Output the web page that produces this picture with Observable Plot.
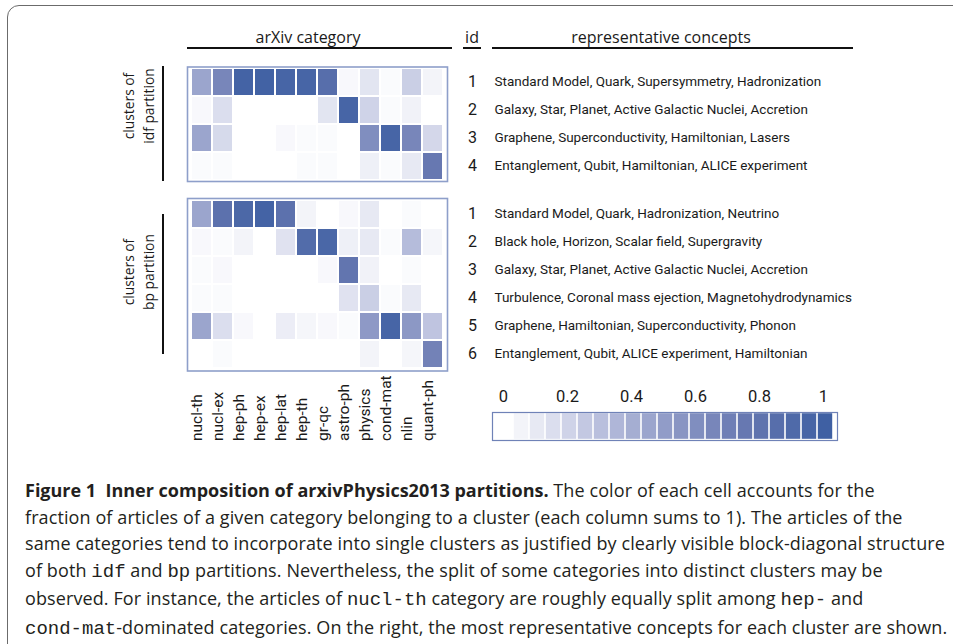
<!DOCTYPE html>
<html>
<head>
<meta charset="utf-8">
<script src="https://cdn.jsdelivr.net/npm/d3@7"></script>
<script src="https://cdn.jsdelivr.net/npm/@observablehq/plot@0.6"></script>
<style>
  body { margin: 0; background: #fff; }
  #root { position: relative; width: 953px; height: 644px; overflow: hidden; background: #fff; font-family: "Open Sans", Roboto, sans-serif; color: #1a1a1a; }
  .abs { position: absolute; }
  .hdr { font-size: 16px; white-space: nowrap; }
  .uline { position: absolute; height: 2px; background: #111; }
  .vline { position: absolute; width: 2px; background: #111; }
  .rot { position: absolute; transform: translate(-50%, -50%) rotate(-90deg); text-align: center; font-size: 13.8px; line-height: 20px; white-space: nowrap; }
  #caption { position: absolute; left: 25px; top: 477px; font-size: 18px; letter-spacing: 0.1px; line-height: 26.6px; white-space: nowrap; color: #231f20; }
  #caption .m { font-family: "Liberation Mono", "DejaVu Sans Mono", monospace; font-size: 19px; letter-spacing: 0; }
  #caption b { font-weight: 700; letter-spacing: 0; }
  svg.plot-layer { position: absolute; left: 0; top: 0; }
</style>
</head>
<body>
<div id="root">
  <div class="abs" style="left:7px;top:5px;width:1000px;height:700px;border:1.3px solid #6b6b6b;border-radius:12px;"></div>

  <div class="abs hdr" style="left:308px;top:37px;transform:translate(-50%,-50%);">arXiv category</div>
  <div class="uline" style="left:187px;top:47px;width:265px;"></div>
  <div class="abs hdr" style="left:472px;top:37px;transform:translate(-50%,-50%);">id</div>
  <div class="uline" style="left:463px;top:47px;width:18px;"></div>
  <div class="abs hdr" style="left:661px;top:37px;transform:translate(-50%,-50%);">representative concepts</div>
  <div class="uline" style="left:492px;top:47px;width:361px;"></div>

  <div class="rot" style="left:139px;top:106px;">clusters of<br>idf partition</div>
  <div class="vline" style="left:162px;top:66px;height:115px;"></div>
  <div class="rot" style="left:139px;top:272px;">clusters of<br>bp partition</div>
  <div class="vline" style="left:162px;top:214px;height:140px;"></div>

  <div id="caption"><b>Figure 1&nbsp; Inner composition of arxivPhysics2013 partitions.</b> The color of each cell accounts for the<br>fraction of articles of a given category belonging to a cluster (each column sums to 1). The articles of the<br>same categories tend to incorporate into single clusters as justified by clearly visible block-diagonal structure<br>of both <span class="m">idf</span> and <span class="m">bp</span> partitions. Nevertheless, the split of some categories into distinct clusters may be<br>observed. For instance, the articles of <span class="m">nucl-th</span> category are roughly equally split among <span class="m">hep-</span> and<br><span class="m">cond-mat</span>-dominated categories. On the right, the most representative concepts for each cluster are shown.</div>
</div>
<script>
// ---------------- data ----------------
const categories = ["nucl-th", "nucl-ex", "hep-ph", "hep-ex", "hep-lat", "hep-th", "gr-qc", "astro-ph", "physics", "cond-mat", "nlin", "quant-ph"];

const idfIds = [1, 2, 3, 4];
const idfValues = [
  [0.45, 0.65, 0.97, 0.98, 0.95, 0.95, 0.85, 0.03, 0.12, 0.02, 0.22, 0.05],
  [0.03, 0.15, 0.00, 0.00, 0.00, 0.00, 0.12, 0.95, 0.20, 0.02, 0.06, 0.00],
  [0.45, 0.17, 0.00, 0.00, 0.03, 0.02, 0.02, 0.00, 0.60, 0.95, 0.65, 0.18],
  [0.02, 0.02, 0.00, 0.00, 0.00, 0.02, 0.02, 0.00, 0.07, 0.02, 0.10, 0.75]
];
const idfConcepts = [
  "Standard Model, Quark, Supersymmetry, Hadronization",
  "Galaxy, Star, Planet, Active Galactic Nuclei, Accretion",
  "Graphene, Superconductivity, Hamiltonian, Lasers",
  "Entanglement, Qubit, Hamiltonian, ALICE experiment"
];

const bpIds = [1, 2, 3, 4, 5, 6];
const bpValues = [
  [0.45, 0.82, 0.92, 0.97, 0.82, 0.05, 0.00, 0.03, 0.10, 0.00, 0.02, 0.00],
  [0.03, 0.02, 0.05, 0.00, 0.13, 0.88, 0.93, 0.07, 0.10, 0.02, 0.32, 0.04],
  [0.02, 0.03, 0.00, 0.00, 0.00, 0.00, 0.03, 0.78, 0.06, 0.00, 0.02, 0.00],
  [0.02, 0.02, 0.00, 0.00, 0.00, 0.00, 0.00, 0.13, 0.22, 0.02, 0.10, 0.00],
  [0.45, 0.15, 0.03, 0.00, 0.08, 0.04, 0.03, 0.02, 0.52, 0.95, 0.53, 0.27],
  [0.00, 0.02, 0.00, 0.00, 0.00, 0.00, 0.00, 0.00, 0.05, 0.00, 0.04, 0.68]
];
const bpConcepts = [
  "Standard Model, Quark, Hadronization, Neutrino",
  "Black hole, Horizon, Scalar field, Supergravity",
  "Galaxy, Star, Planet, Active Galactic Nuclei, Accretion",
  "Turbulence, Coronal mass ejection, Magnetohydrodynamics",
  "Graphene, Hamiltonian, Superconductivity, Phonon",
  "Entanglement, Qubit, ALICE experiment, Hamiltonian"
];

const legendSteps = [0, 0.05, 0.1, 0.15, 0.2, 0.25, 0.3, 0.35, 0.4, 0.45, 0.5, 0.55, 0.6, 0.65, 0.7, 0.75, 0.8, 0.85, 0.9, 0.95, 1];
const legendTicks = [0, 0.2, 0.4, 0.6, 0.8, 1];

// ---------------- styling ----------------
const colorScale = {
  type: "linear",
  domain: [0, 0.25, 0.5, 0.75, 1],
  range: ["#ffffff", "#c3c8e2", "#919cc8", "#6778b1", "#3f60a3"],
  interpolate: "rgb"
};
const FONT = "Roboto, 'Open Sans', sans-serif";
const W = 953;

function tidy(ids, values) {
  return ids.flatMap((id, r) => categories.map((c, j) => ({id, cat: c, v: values[r][j]})));
}

function heat(ids, values, concepts, marginT, bottomY, totalH, withLabels) {
  const rows = ids.map((id, i) => ({id, concept: concepts[i]}));
  const marks = [
    Plot.cell(tidy(ids, values), {x: "cat", y: "id", fill: "v", inset: 1}),
    Plot.frame({stroke: "#8e9fca", strokeWidth: 1.6}),
    Plot.text(rows, {y: "id", text: d => String(d.id), frameAnchor: "right", dx: 25, dy: -1, textAnchor: "middle", fontSize: 16, fill: "#1a1a1a"}),
    Plot.text(rows, {y: "id", text: "concept", frameAnchor: "right", dx: 47, dy: -1, textAnchor: "start", fontSize: 13.5, fill: "#1a1a1a"})
  ];
  if (withLabels) {
    marks.push(Plot.text(categories, {x: d => d, text: d => d, frameAnchor: "bottom", rotate: -90, textAnchor: "start", dy: 70, fontSize: 15.5, fill: "#1a1a1a"}));
  }
  return Plot.plot({
    width: W,
    height: totalH,
    marginTop: marginT,
    marginBottom: totalH - bottomY,
    marginLeft: 187,
    marginRight: W - 447,
    style: {background: "transparent", fontFamily: FONT, overflow: "visible"},
    x: {domain: categories, padding: 0, axis: null},
    y: {domain: ids, padding: 0, axis: null},
    color: colorScale,
    marks
  });
}

const root = document.getElementById("root");

const idfPlot = heat(idfIds, idfValues, idfConcepts, 66.5, 181, 200, false);
const bpPlot = heat(bpIds, bpValues, bpConcepts, 198, 370.5, 460, true);

const legendPlot = Plot.plot({
  width: W,
  height: 460,
  marginTop: 412,
  marginBottom: 20,
  marginLeft: 492,
  marginRight: W - 837,
  style: {background: "transparent", fontFamily: FONT, overflow: "visible"},
  x: {domain: legendSteps, padding: 0, axis: null},
  color: colorScale,
  marks: [
    Plot.cell(legendSteps, {x: d => d, fill: d => d, insetLeft: 0.8, insetRight: 0.8, insetTop: 1.2, insetBottom: 1.2}),
    Plot.frame({stroke: "#6f82b7", strokeWidth: 1.2}),
    Plot.text(legendTicks, {x: d => d, text: d => String(d), frameAnchor: "top", dy: -22, dx: -2, fontSize: 16.5, fill: "#1a1a1a"})
  ]
});

for (const svg of [idfPlot, bpPlot, legendPlot]) {
  svg.classList.add("plot-layer");
  root.appendChild(svg);
}
</script>
</body>
</html>
